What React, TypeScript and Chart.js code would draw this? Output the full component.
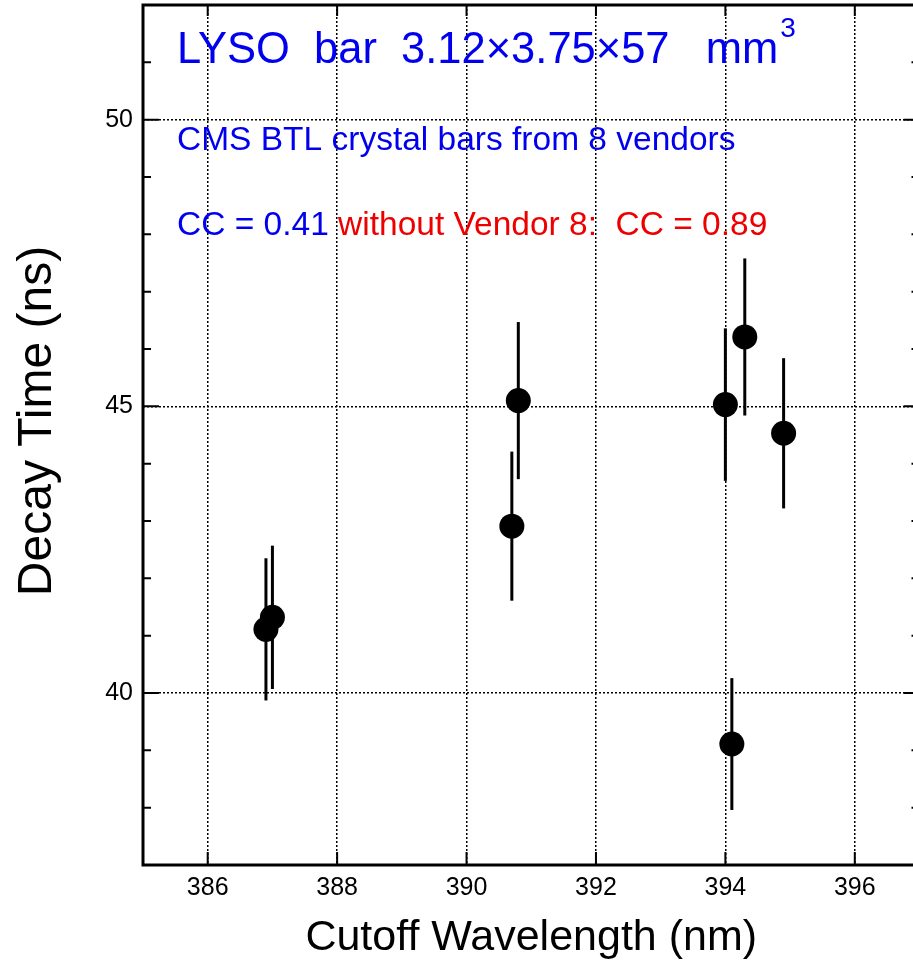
import React, { useEffect, useRef } from 'react';
import { Chart, registerables } from 'chart.js';

Chart.register(...registerables);

// ---- data ----
const wavelength = [386.9, 387.0, 390.7, 390.8, 394.0, 394.1, 394.3, 394.9];
const decayTime = [41.11, 41.32, 42.91, 45.1, 45.03, 39.11, 46.21, 44.53];
const decayErr = [1.24, 1.25, 1.3, 1.37, 1.33, 1.15, 1.37, 1.31];

const xTickValues = [386, 388, 390, 392, 394, 396];
const yTickValues = [40, 45, 50];
const yMinorTickValues = [37, 38, 39, 41, 42, 43, 44, 46, 47, 48, 49, 51, 52];

const X_MIN = 385;
const X_MAX = 397;
const Y_MIN = 37;
const Y_MAX = 52;

const xTitle = 'Cutoff Wavelength (nm)';
const yTitle = 'Decay Time (ns)';
const line1 = 'LYSO  bar  3.12\u00d73.75\u00d757   mm';
const line1Sup = '3';
const line2 = 'CMS BTL crystal bars from 8 vendors';
const line3Blue = 'CC = 0.41 ';
const line3Red = 'without Vendor 8:  CC = 0.89';

const FONT = '"Liberation Sans", Arial, Helvetica, sans-serif';
const BLUE = '#0000ee';
const RED = '#ee0000';

const errorBarPlugin = {
  id: 'errorBars',
  beforeDatasetsDraw(chart: any) {
    const { ctx, scales } = chart;
    const x = scales.x;
    const y = scales.y;
    ctx.save();
    ctx.strokeStyle = '#000';
    ctx.lineWidth = 3;
    wavelength.forEach((w, i) => {
      const px = x.getPixelForValue(w);
      ctx.beginPath();
      ctx.moveTo(px, y.getPixelForValue(decayTime[i] - decayErr[i]));
      ctx.lineTo(px, y.getPixelForValue(decayTime[i] + decayErr[i]));
      ctx.stroke();
    });
    ctx.restore();
  },
};

const framePlugin = {
  id: 'frame',
  afterDatasetsDraw(chart: any) {
    const { ctx, chartArea, scales } = chart;
    const { left, right, top, bottom } = chartArea;
    const x = scales.x;
    const y = scales.y;
    ctx.save();
    ctx.strokeStyle = '#000';
    ctx.lineWidth = 2;
    ctx.setLineDash([]);
    xTickValues.forEach((v) => {
      const px = x.getPixelForValue(v);
      ctx.beginPath();
      ctx.moveTo(px, bottom);
      ctx.lineTo(px, bottom - 13);
      ctx.moveTo(px, top);
      ctx.lineTo(px, top + 11);
      ctx.stroke();
    });
    yTickValues.forEach((v) => {
      const py = y.getPixelForValue(v);
      ctx.beginPath();
      ctx.moveTo(left, py);
      ctx.lineTo(left + 16, py);
      ctx.moveTo(right, py);
      ctx.lineTo(right - 16, py);
      ctx.stroke();
    });
    yMinorTickValues.forEach((v) => {
      const py = y.getPixelForValue(v);
      ctx.beginPath();
      ctx.moveTo(left, py);
      ctx.lineTo(left + 8, py);
      ctx.moveTo(right, py);
      ctx.lineTo(right - 8, py);
      ctx.stroke();
    });
    ctx.lineWidth = 3;
    ctx.strokeRect(left, top, right - left, bottom - top);
    ctx.restore();
  },
};

const textPlugin = {
  id: 'annotText',
  afterDraw(chart: any) {
    const { ctx, chartArea } = chart;
    const x0 = chartArea.left + 34;
    ctx.save();
    ctx.textBaseline = 'alphabetic';
    ctx.textAlign = 'left';
    ctx.font = `43.5px ${FONT}`;
    ctx.fillStyle = BLUE;
    ctx.fillText(line1, x0, chartArea.top + 58);
    const w1 = ctx.measureText(line1).width;
    ctx.font = `28px ${FONT}`;
    ctx.fillText(line1Sup, x0 + w1 + 2, chartArea.top + 32);
    ctx.font = `33.5px ${FONT}`;
    ctx.fillText(line2, x0, chartArea.top + 145);
    ctx.fillText(line3Blue, x0, chartArea.top + 230);
    const w3 = ctx.measureText(line3Blue).width;
    ctx.fillStyle = RED;
    ctx.fillText(line3Red, x0 + w3, chartArea.top + 230);
    ctx.restore();

    // y axis title (rotated)
    ctx.save();
    const cy = (chartArea.top + chartArea.bottom) / 2 - 14;
    ctx.translate(38, cy);
    ctx.rotate(-Math.PI / 2);
    ctx.font = `48px ${FONT}`;
    ctx.fillStyle = '#000';
    ctx.textAlign = 'center';
    ctx.textBaseline = 'middle';
    ctx.fillText(yTitle, 0, 0);
    ctx.restore();
  },
};

export default function App() {
  const canvasRef = useRef<HTMLCanvasElement | null>(null);

  useEffect(() => {
    const canvas = canvasRef.current;
    if (!canvas) return;
    const chart = new Chart(canvas, {
      type: 'scatter',
      data: {
        datasets: [
          {
            label: 'LYSO',
            data: wavelength.map((w, i) => ({ x: w, y: decayTime[i] })),
            backgroundColor: '#000',
            borderColor: '#000',
            borderWidth: 0,
            pointRadius: 12.5,
            pointHoverRadius: 12.5,
          },
        ],
      },
      options: {
        responsive: false,
        animation: false,
        devicePixelRatio: 1,
        layout: { autoPadding: false, padding: { top: 5, right: 10.5, left: 0, bottom: 0 } },
        plugins: {
          legend: { display: false },
          tooltip: { enabled: false },
          title: { display: false },
        },
        scales: {
          x: {
            type: 'linear',
            position: 'bottom',
            min: X_MIN,
            max: X_MAX,
            afterBuildTicks: (scale: any) => {
              scale.ticks = xTickValues.map((v) => ({ value: v }));
            },
            afterFit: (scale: any) => {
              scale.height = 95;
              scale.paddingLeft = 0;
              scale.paddingRight = 0;
            },
            grid: {
              color: '#000',
              lineWidth: 1.5,
              drawTicks: false,
            },
            border: { display: false, dash: [2, 2] },
            ticks: {
              color: '#000',
              font: { family: FONT, size: 25 },
              padding: 8,
              maxRotation: 0,
              callback: (v: any) => String(v),
            },
            title: {
              display: true,
              text: xTitle,
              color: '#000',
              font: { family: FONT, size: 43, lineHeight: 1 },
              padding: { top: 0, bottom: 0 },
            },
          },
          y: {
            type: 'linear',
            min: Y_MIN,
            max: Y_MAX,
            afterBuildTicks: (scale: any) => {
              scale.ticks = yTickValues.map((v) => ({ value: v }));
            },
            afterFit: (scale: any) => {
              scale.width = 143;
              scale.paddingTop = 0;
              scale.paddingBottom = 0;
            },
            grid: {
              color: '#000',
              lineWidth: 1.5,
              drawTicks: false,
            },
            border: { display: false, dash: [2, 2] },
            ticks: {
              color: '#000',
              font: { family: FONT, size: 25 },
              padding: 10,
              callback: (v: any) => String(v),
            },
            title: { display: false, text: yTitle },
          },
        },
      },
      plugins: [errorBarPlugin, framePlugin, textPlugin],
    });
    return () => chart.destroy();
  }, []);

  return (
    <div
      style={{
        position: 'absolute',
        left: 0,
        top: 0,
        width: 913,
        height: 960,
        overflow: 'hidden',
        background: '#fff',
      }}
    >
      <canvas
        ref={canvasRef}
        width={930}
        height={960}
        style={{ display: 'block', width: 930, height: 960 }}
      />
    </div>
  );
}
